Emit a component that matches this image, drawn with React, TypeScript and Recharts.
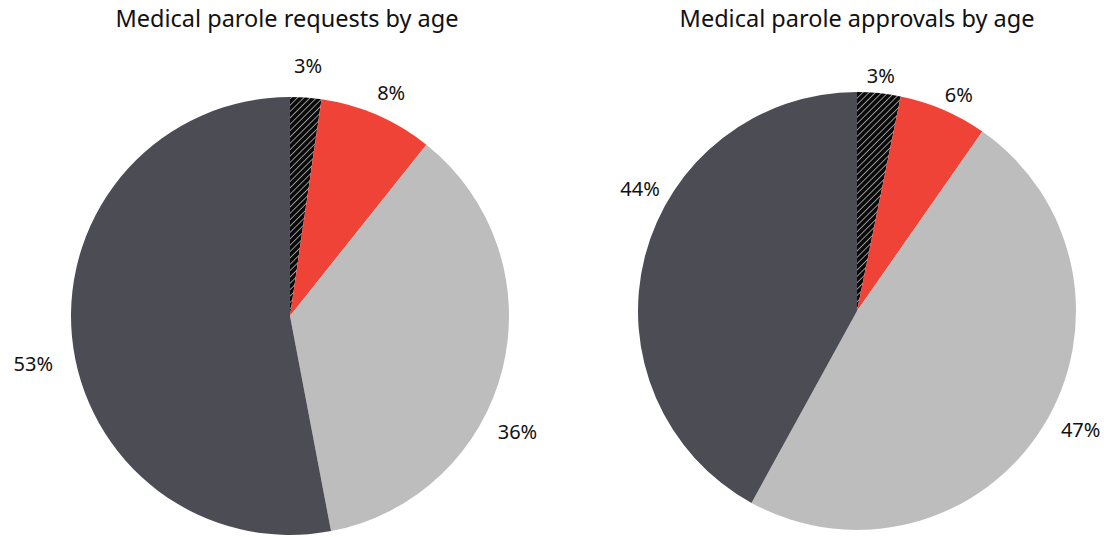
import React from 'react';
import { PieChart, Pie, Cell } from 'recharts';

// age groups, clockwise from 12 o'clock
const groups = ['Under 50', '50-59', '60-69', '70+'];
const requestValues = [2.3, 8.4, 36.3, 53.0];
const requestLabels = ['3%', '8%', '36%', '53%'];
const approvalValues = [3.2, 6.5, 48.3, 42.0];
const approvalLabels = ['3%', '6%', '47%', '44%'];

const colors = ['url(#hatch)', '#ef4338', '#bdbdbd', '#4c4c54'];
// label placement tweaks: angle nudge (degrees) and distance outside the rim (px)
const requestNudge = [0, -1, -13, 5];
const requestGap = [32, 26, 36, 42];
const approvalNudge = [0, -2, 4, -15];
const approvalGap = [18, 20, 34, 30];

const font = '"Noto Sans", sans-serif';
const RAD = Math.PI / 180;

const toRows = (values: number[], labels: string[], nudge: number[], gap: number[]) =>
  groups.map((g, i) => ({ name: g, value: values[i], label: labels[i], nudge: nudge[i], gap: gap[i] }));

const requests = toRows(requestValues, requestLabels, requestNudge, requestGap);
const approvals = toRows(approvalValues, approvalLabels, approvalNudge, approvalGap);

const renderLabel = (props: any) => {
  const { cx, cy, midAngle, outerRadius, payload } = props;
  const r = outerRadius + payload.gap;
  const a = (midAngle + payload.nudge) * RAD;
  const x = cx + r * Math.cos(-a);
  const y = cy + r * Math.sin(-a);
  return (
    <text x={x} y={y} textAnchor="middle" dominantBaseline="central" fontSize={20} fontFamily={font} fill="#111">
      {payload.label}
    </text>
  );
};

const App: React.FC = () => (
  <div style={{ position: 'absolute', left: 0, top: 0, width: 1104, height: 537, background: '#fff' }}>
    <PieChart width={1104} height={537} margin={{ top: 0, right: 0, bottom: 0, left: 0 }}>
      <defs>
        <pattern id="hatch" width="4.5" height="4.5" patternUnits="userSpaceOnUse" patternTransform="rotate(45)">
          <rect width="4.5" height="4.5" fill="#0a0a0a" />
          <line x1="0" y1="0" x2="0" y2="4.5" stroke="#fff" strokeWidth="1.1" />
        </pattern>
      </defs>
      <text x={287} y={18} textAnchor="middle" dominantBaseline="central" fontSize={23.5} fontFamily={font} fill="#111">
        Medical parole requests by age
      </text>
      <text x={857} y={18} textAnchor="middle" dominantBaseline="central" fontSize={23.5} fontFamily={font} fill="#111">
        Medical parole approvals by age
      </text>
      <Pie
        data={requests}
        dataKey="value"
        cx={290}
        cy={316}
        outerRadius={219}
        startAngle={90}
        endAngle={-270}
        stroke="none"
        label={renderLabel}
        labelLine={false}
        isAnimationActive={false}
      >
        {requests.map((d, i) => (
          <Cell key={d.name} fill={colors[i]} />
        ))}
      </Pie>
      <Pie
        data={approvals}
        dataKey="value"
        cx={857}
        cy={311}
        outerRadius={219}
        startAngle={90}
        endAngle={-270}
        stroke="none"
        label={renderLabel}
        labelLine={false}
        isAnimationActive={false}
      >
        {approvals.map((d, i) => (
          <Cell key={d.name} fill={colors[i]} />
        ))}
      </Pie>
    </PieChart>
  </div>
);

export default App;
